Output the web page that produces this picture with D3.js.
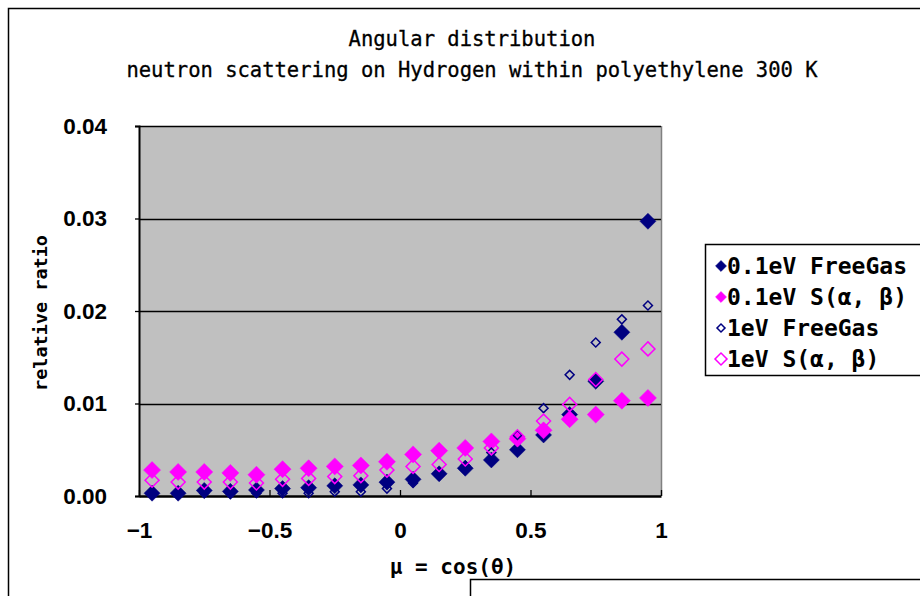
<!DOCTYPE html>
<html><head><meta charset="utf-8">
<script src="https://cdn.jsdelivr.net/npm/d3@7/dist/d3.min.js"></script>
<style>
body{margin:0;background:#fff;}
svg{display:block;}
</style></head>
<body>
<svg id="chart" width="920" height="596"></svg>
<script>
// ---- data ----
const mu = [-0.95,-0.85,-0.75,-0.65,-0.55,-0.45,-0.35,-0.25,-0.15,-0.05,0.05,0.15,0.25,0.35,0.45,0.55,0.65,0.75,0.85,0.95];
const freeGas01 = [0.0003,0.0003,0.0006,0.0005,0.00065,0.0008,0.0009,0.0011,0.0012,0.0015,0.0018,0.0024,0.0030,0.0039,0.0050,0.0066,0.0088,0.0124,0.0177,0.0297];
const sab01     = [0.0028,0.0026,0.0026,0.0025,0.0023,0.0029,0.0030,0.0032,0.0033,0.0037,0.0045,0.0049,0.0052,0.0059,0.0062,0.0071,0.0083,0.0088,0.0103,0.0106];
const freeGas1  = [0.0002,0.0002,0.0003,0.0003,0.0003,0.0003,0.0003,0.00047,0.00047,0.0008,0.0014,0.0022,0.0033,0.0047,0.0066,0.0095,0.0131,0.0166,0.0191,0.0206];
const sab1      = [0.0017,0.0015,0.0015,0.0015,0.0014,0.0018,0.0019,0.0021,0.0022,0.0028,0.0032,0.0034,0.0040,0.0052,0.0064,0.0081,0.0099,0.0126,0.0148,0.0159];
const seriesNames = ["0.1eV FreeGas","0.1eV S(α, β)","1eV FreeGas","1eV S(α, β)"];
const yTicks = [0,0.01,0.02,0.03,0.04];
const xTicks = [-1,-0.5,0,0.5,1];
const titleLines = ["Angular distribution","neutron scattering on Hydrogen within polyethylene 300 K"];
const xTitle = "μ = cos(θ)";
const yTitle = "relative ratio";

// ---- layout ----
const svg = d3.select("#chart");
const P = {l:139, r:661, t:126, b:496};
const x = d3.scaleLinear().domain([-1,1]).range([P.l,P.r]);
const y = d3.scaleLinear().domain([0,0.04]).range([P.b,P.t]);
const MONO = "'DejaVu Sans Mono', monospace";
const SANS = "'Liberation Sans', Arial, sans-serif";

// outer chart frame
svg.append("path").attr("d",`M8.5,596 V8.5 H920`).attr("fill","none").attr("stroke","#000").attr("stroke-width",1.5);
// neighbouring box at bottom right
svg.append("path").attr("d",`M470.5,596 V579.5 H920`).attr("fill","none").attr("stroke","#000").attr("stroke-width",1.5);

// title
svg.append("g").selectAll("text").data(titleLines).join("text")
  .attr("x",472).attr("y",(d,i)=>46+i*31).attr("text-anchor","middle")
  .attr("font-family",MONO).attr("font-size",20.5).attr("fill","#000")
  .attr("stroke","#000").attr("stroke-width",0.3).text(d=>d);

// plot area
svg.append("rect").attr("x",P.l).attr("y",P.t).attr("width",P.r-P.l).attr("height",P.b-P.t).attr("fill","#c0c0c0");
svg.append("line").attr("x1",P.r+0.5).attr("x2",P.r+0.5).attr("y1",P.t).attr("y2",P.b).attr("stroke","#808080").attr("stroke-width",1.5);
// gridlines
svg.append("g").selectAll("line").data(yTicks.filter(v=>v>0)).join("line")
  .attr("x1",P.l).attr("x2",P.r).attr("y1",d=>Math.round(y(d))+0.5).attr("y2",d=>Math.round(y(d))+0.5)
  .attr("stroke","#000").attr("stroke-width",1.3);

// y axis
const yAxis = svg.append("g").attr("transform",`translate(${P.l},0)`)
  .call(d3.axisLeft(y).tickValues(yTicks).tickFormat(d3.format(".2f")).tickSize(4).tickPadding(28));
yAxis.select(".domain").attr("stroke","#000").attr("stroke-width",2);
yAxis.selectAll(".tick line").attr("stroke","#000").attr("stroke-width",1.3);
yAxis.selectAll("text").attr("font-family",SANS).attr("font-size",22.5).attr("font-weight","bold").attr("fill","#000");

// x axis
const xAxis = svg.append("g").attr("transform",`translate(0,${P.b})`)
  .call(d3.axisBottom(x).tickValues(xTicks).tickFormat(d3.format("")).tickSizeInner(-6).tickSizeOuter(0).tickPadding(26));
xAxis.select(".domain").attr("stroke","#000").attr("stroke-width",2.5);
xAxis.selectAll(".tick line").attr("stroke","#000").attr("stroke-width",1.3);
xAxis.selectAll("text").attr("font-family",SANS).attr("font-size",22.5).attr("font-weight","bold").attr("fill","#000");

// axis titles
svg.append("text").attr("x",453).attr("y",574).attr("text-anchor","middle")
  .attr("font-family",MONO).attr("font-size",21).attr("font-weight","bold").text(xTitle);
svg.append("text").attr("transform","translate(47,313) rotate(-90)").attr("text-anchor","middle")
  .attr("font-family",MONO).attr("font-size",18.5).attr("font-weight","bold").text(yTitle);

// markers
const diamond = h => d3.symbol().type(d3.symbolSquare).size(2*h*h)();
const styles = [
  {vals:freeGas01, fill:"#000080", stroke:"#000080", sw:0.5, h:8, lh:5.5},
  {vals:sab01,     fill:"#ff00ff", stroke:"#ff00ff", sw:0.5, h:8.5, lh:5.5},
  {vals:freeGas1,  fill:"none",    stroke:"#000080", sw:1.5, h:4.5, lh:4},
  {vals:sab1,      fill:"none",    stroke:"#ff00ff", sw:1.5, h:7, lh:6}
];
styles.forEach(s=>{
  svg.append("g").selectAll("path").data(mu.map((m,i)=>[m,s.vals[i]])).join("path")
    .attr("d",diamond(s.h))
    .attr("transform",d=>`translate(${x(d[0])},${y(d[1])}) rotate(45)`)
    .attr("fill",s.fill).attr("stroke",s.stroke).attr("stroke-width",s.sw);
});

// legend
const lg = svg.append("g");
lg.append("path").attr("d","M920,244.5 H705.5 V375.5 H920").attr("fill","none").attr("stroke","#000").attr("stroke-width",1.5);
const rows = lg.selectAll("g").data(styles).join("g").attr("transform",(d,i)=>`translate(0,${266+i*31})`);
rows.append("path").attr("d",d=>diamond(d.lh)).attr("transform","translate(721,0) rotate(45)")
  .attr("fill",d=>d.fill).attr("stroke",d=>d.stroke).attr("stroke-width",d=>d.sw);
rows.append("text").attr("x",727).attr("y",8).attr("font-family",MONO).attr("font-size",23).attr("font-weight","bold")
  .text((d,i)=>seriesNames[i]);
</script>
</body></html>
